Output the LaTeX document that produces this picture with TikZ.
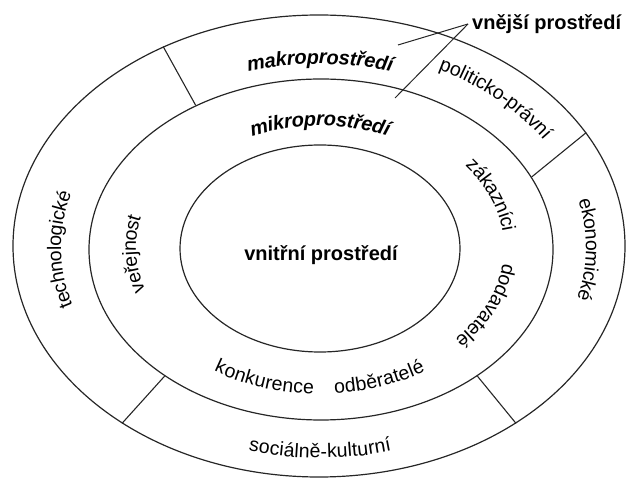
\documentclass[tikz,border=0pt]{standalone}
\usepackage{fontspec}
\setmainfont{Liberation Sans}
\usepackage{tikz}
\usetikzlibrary{positioning,shapes.geometric,decorations.text}

\newcommand{\ringfont}{\fontsize{19.5}{23}\selectfont}
\newcommand{\headfont}{\fontsize{20}{24}\selectfont\bfseries}

\begin{document}
\begin{tikzpicture}[x=1pt, y=1pt,
    ring/.style={draw=black!85, line width=1.2pt, ellipse, inner sep=0pt},
    divider/.style={draw=black!85, line width=1.1pt},
    pointer/.style={draw=black!85, line width=1pt},
    ringtext/.style={decorate, decoration={text along path, text={|\ringfont|#1}, text align=center, raise=-6pt}},
    boldtext/.style={decorate, decoration={text along path, text={|\headfont\itshape|#1}, text align=center, raise=-6pt}}]
    \useasboundingbox (0,0) rectangle (628,479);

    % Ellipses
    \node[ring, minimum width=612pt, minimum height=462pt] (makro) at (319,233) {};
    \node[ring, minimum width=464pt, minimum height=341pt] (mikro) at (321,229.5) {};
    \node[ring, minimum width=280pt, minimum height=207pt] (vnitrni) at (320,230.5) {};

    % Dividers of the outer ring
    \draw[divider] (mikro.131) -- (makro.128);
    \draw[divider] (mikro.19) -- (makro.23);
    \draw[divider] (mikro.-39) -- (makro.-42);
    \draw[divider] (mikro.219) -- (makro.222);

    % Centre
    \node[font=\headfont] (vnitrnitext) at (321,224) {vnitřní prostředí};

    % Pointer label
    \node[font=\headfont, anchor=west, inner sep=4pt] (vnejsi) at (468,455) {vnější prostředí};
    \coordinate (makroend) at (398,434);
    \coordinate (mikroend) at (395,381);
    \draw[pointer] (vnejsi.west) -- (makroend);
    \draw[pointer] (vnejsi.west) -- (mikroend);

    % Ring labels
    \begin{scope}[shift={(320,231)}]
      % outer ring
      \path[boldtext=makroprostředí] (122:255 and 190) arc[start angle=122, end angle=58, x radius=255, y radius=190];
      \path[ringtext=politicko-právní] (72:272 and 205) arc[start angle=72, end angle=23, x radius=272, y radius=205];
      \path[ringtext=ekonomické] (25:272 and 205) arc[start angle=25, end angle=-26, x radius=272, y radius=205];
      \path[ringtext=sociálně-kulturní] (-125:272 and 204) arc[start angle=-125, end angle=-55, x radius=272, y radius=204];
      \path[ringtext=technologické] (205.5:265 and 200) arc[start angle=205.5, end angle=155.5, x radius=265, y radius=200];
      % middle ring
      \path[boldtext=mikroprostředí] (130:175 and 128) arc[start angle=130, end angle=50, x radius=175, y radius=128];
      \path[ringtext=zákazníci] (45:190 and 140) arc[start angle=45, end angle=-1, x radius=190, y radius=140];
      \path[ringtext=dodavatelé] (0:190 and 140) arc[start angle=0, end angle=-49, x radius=190, y radius=140];
      \path[ringtext=odběratelé] (-95:190 and 140) arc[start angle=-95, end angle=-47, x radius=190, y radius=140];
      \path[ringtext=konkurence] (-135:190 and 140) arc[start angle=-135, end angle=-81, x radius=190, y radius=140];
      \path[ringtext=veřejnost] (205:190 and 140) arc[start angle=205, end angle=160, x radius=190, y radius=140];
    \end{scope}
\end{tikzpicture}
\end{document}
